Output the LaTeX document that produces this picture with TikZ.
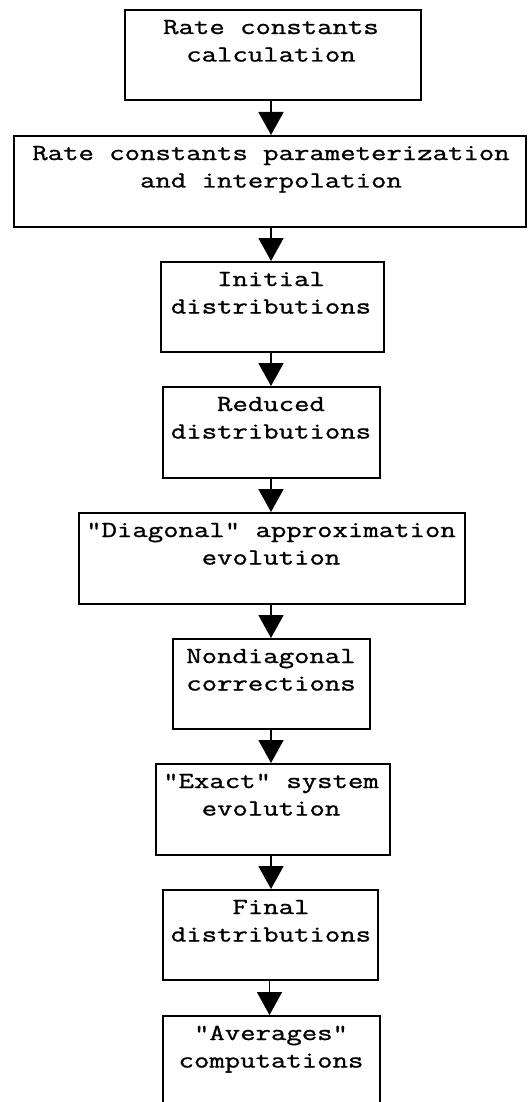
\documentclass[tikz,border=0pt]{standalone}
\usepackage{fontspec}
\setmonofont[FakeStretch=1.3,FakeBold=1.1]{Latin Modern Mono}
\usetikzlibrary{arrows.meta}
\tikzset{
  box/.style={draw=black, line width=1.7pt, fill=none, inner sep=0pt, anchor=north west},
  lbl/.style={font=\fontsize{23}{27.5}\selectfont\ttfamily, align=center, inner sep=0pt, anchor=base},
  flow/.style={line width=1.8pt, -{Triangle[width=25pt,length=23pt]}}
}
\begin{document}
\begin{tikzpicture}[x=1pt,y=-1pt]
\useasboundingbox (0,0) rectangle (527,1102);
\node[box, minimum width=296pt, minimum height=90pt] (b1) at (124,9) {};
\node[box, minimum width=512pt, minimum height=91pt] (b2) at (13,135) {};
\node[box, minimum width=223pt, minimum height=90pt] (b3) at (160,261) {};
\node[box, minimum width=217pt, minimum height=91pt] (b4) at (162,386) {};
\node[box, minimum width=386pt, minimum height=91pt] (b5) at (78,512) {};
\node[box, minimum width=197pt, minimum height=90pt] (b6) at (172,638) {};
\node[box, minimum width=234pt, minimum height=91pt] (b7) at (155,763) {};
\node[box, minimum width=215pt, minimum height=90pt] (b8) at (162,889) {};
\node[box, minimum width=217pt, minimum height=91pt] (b9) at (162,1015) {};
\node[lbl] (t1) at (271,61.5) {Rate constants\\calculation};
\node[lbl] (t2) at (271,187.5) {Rate constants parameterization\\and interpolation};
\node[lbl] (t3) at (271,313.5) {Initial\\distributions};
\node[lbl] (t4) at (271,438.5) {Reduced\\distributions};
\node[lbl] (t5) at (271,564.5) {"Diagonal" approximation\\evolution};
\node[lbl] (t6) at (271,690.5) {Nondiagonal\\corrections};
\node[lbl] (t7) at (271,815.5) {"Exact" system\\evolution};
\node[lbl] (t8) at (271,941.5) {Final\\distributions};
\node[lbl] (t9) at (271,1067.5) {"Averages"\\computations};
\draw[flow] (b1.south -| t1) -- (b2.north -| t1);
\draw[flow] (b2.south -| t1) -- (b3.north -| t1);
\draw[flow] (b3.south -| t1) -- (b4.north -| t1);
\draw[flow] (b4.south -| t1) -- (b5.north -| t1);
\draw[flow] (b5.south -| t1) -- (b6.north -| t1);
\draw[flow] (b6.south -| t1) -- (b7.north -| t1);
\draw[flow] (b7.south -| t1) -- (b8.north -| t1);
\draw[flow] ([xshift=-1.5pt]b8.south -| t1) -- ([xshift=-1.5pt]b9.north -| t1);
\end{tikzpicture}
\end{document}
